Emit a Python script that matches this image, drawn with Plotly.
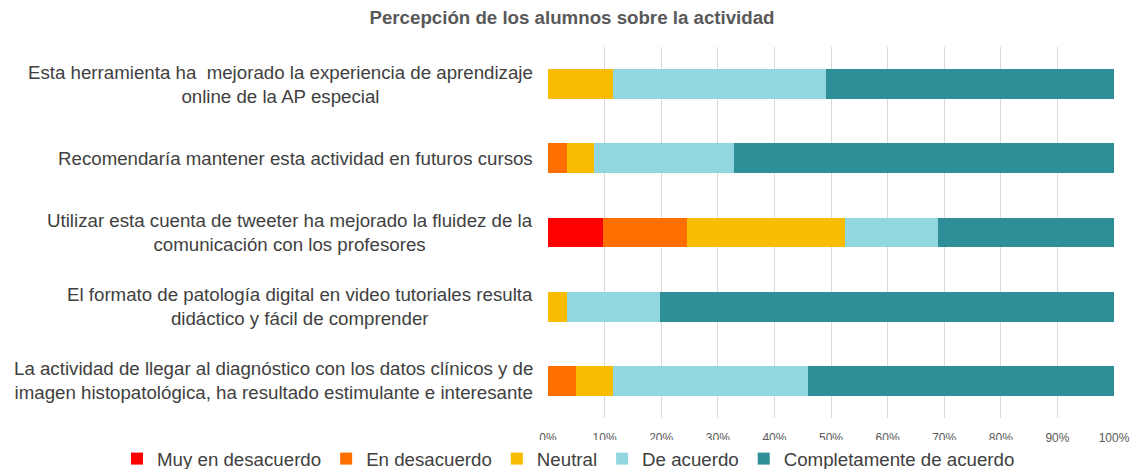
import plotly.graph_objects as go

categories = [
    "Esta herramienta ha  mejorado la experiencia de aprendizaje<br>online de la AP especial",
    "Recomendaría mantener esta actividad en futuros cursos",
    "Utilizar esta cuenta de tweeter ha mejorado la fluidez de la<br>comunicación con los profesores",
    "El formato de patología digital en video tutoriales resulta<br>didáctico y fácil de comprender",
    "La actividad de llegar al diagnóstico con los datos clínicos y de<br>imagen histopatológica, ha resultado estimulante e interesante",
]
series_names = ["Muy en desacuerdo", "En desacuerdo", "Neutral", "De acuerdo", "Completamente de acuerdo"]
muy_en_desacuerdo = [0, 0, 9.8, 0, 0]
en_desacuerdo = [0, 3.3, 14.8, 0, 4.9]
neutral = [11.5, 4.9, 27.9, 3.3, 6.6]
de_acuerdo = [37.7, 24.6, 16.4, 16.4, 34.4]
completamente = [50.8, 67.2, 31.1, 80.3, 54.1]
colors = ["#FF0000", "#FF6F00", "#F9BC00", "#92D7DF", "#2E8F98"]
x_ticks = [0, 10, 20, 30, 40, 50, 60, 70, 80, 90, 100]
title = "Percepción de los alumnos sobre la actividad"

FONT = "Liberation Sans, Arial, Helvetica, sans-serif"
values = [muy_en_desacuerdo, en_desacuerdo, neutral, de_acuerdo, completamente]
ykeys = [f"c{i}" for i in range(len(categories))]

W, H = 1131, 469
L, R, T, B = 548, 17, 46.5, 51
plot_h = H - T - B

fig = go.Figure()
for name, vals, col in zip(series_names, values, colors):
    fig.add_trace(go.Bar(
        y=ykeys, x=vals, name=name, orientation="h",
        marker=dict(color=col, line=dict(width=0)),
        hoverinfo="x+name",
    ))

for key, label in zip(ykeys, categories):
    fig.add_annotation(
        x=0, xref="paper", y=key, yref="y", text=label,
        xanchor="right", yanchor="middle", align="center", xshift=-13,
        showarrow=False, font=dict(family=FONT, size=18.7, color="#404040"),
    )

fig.update_layout(
    width=W, height=H,
    barmode="stack", bargap=0.6,
    plot_bgcolor="white", paper_bgcolor="white",
    margin=dict(l=L, r=R, t=T, b=B, autoexpand=False),
    title=dict(text="<b>" + title + "</b>", x=572 / W, xanchor="center", xref="container",
               y=1 - 17.5 / H, yanchor="middle", yref="container",
               font=dict(family=FONT, size=18.7, color="#595959")),
    xaxis=dict(range=[0, 100], tickvals=x_ticks, ticktext=[f"{t}%" for t in x_ticks],
               showgrid=True, gridcolor="#D9D9D9", gridwidth=1, zeroline=False,
               showline=False, ticklabelstandoff=11, ticklabeloverflow="allow",
               tickfont=dict(family=FONT, size=12, color="#595959"),
               fixedrange=True),
    yaxis=dict(categoryorder="array", categoryarray=ykeys, autorange="reversed",
               showticklabels=False, showgrid=False, zeroline=False, showline=False),
    legend=dict(orientation="h", xref="paper", yref="paper",
                x=(117 - L) / (W - L - R), xanchor="left",
                y=(H - B - 459) / plot_h, yanchor="middle", traceorder="normal",
                font=dict(family=FONT, size=18.7, color="#404040")),
    showlegend=True,
)

fig.write_html(
    "out.html",
    config={"displayModeBar": False},
    post_script="document.body.style.margin='0';document.body.style.overflow='hidden';",
)
